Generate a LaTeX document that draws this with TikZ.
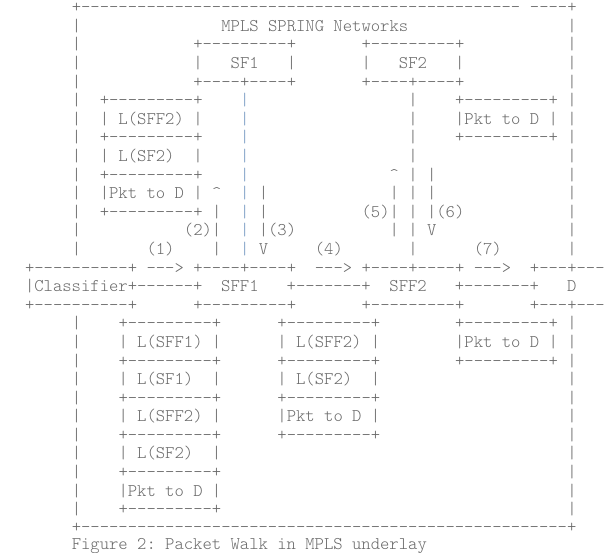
\documentclass[tikz,border=0pt]{standalone}
\usepackage{xcolor}
\definecolor{ascgray}{RGB}{105,105,105}
\definecolor{ascblue}{RGB}{120,155,195}
\tikzset{asc/.style={anchor=base west, inner sep=0pt, outer sep=0pt, text=ascgray,
  font=\fontsize{17.8pt}{18.6pt}\selectfont\ttfamily\fontseries{l}\selectfont}}
% \A[options]{column}{row}{text}
\newcommand\A[4][]{\node[asc,#1] (r#3c#2) at ({25+9.35*#2},{12.8+18.59*#3}) {#4};}
\begin{document}
\begin{tikzpicture}[x=1pt,y=-1pt]
\fill[white] (0,0) rectangle (607,553);
\useasboundingbox (0,0) rectangle (607,553);
% outer border
\A{5}{0}{+-----------------------------------------------}
\A{54}{0}{----+}
\foreach \k in {1,...,13,17,18,...,27}{\A{5}{\k}{|}\A{58}{\k}{|}}
\node[asc] (r28c5) at ({25+9.35*5},532.3) {+----------------------------------------------------+};
% title
\A{21}{1}{MPLS~SPRING~Networks}
% SF boxes
\A{18}{2}{+---------+} \A{36}{2}{+---------+}
\A{18}{3}{|~~~SF1~~~|} \A{36}{3}{|~~~SF2~~~|}
\A{18}{4}{+----+----+} \A{36}{4}{+----+----+}
\foreach \k in {5,...,13}{\A[text=ascblue]{23}{\k}{|}\A{41}{\k}{|}}
% upper label stacks
\A{8}{5}{+---------+}  \A{46}{5}{+---------+}
\A{8}{6}{|~L(SFF2)~|}  \A{46}{6}{|Pkt~to~D~|}
\A{8}{7}{+---------+}  \A{46}{7}{+---------+}
\A{8}{8}{|~L(SF2)~~|}
\A{8}{9}{+---------+}
\A{8}{10}{|Pkt~to~D~|}
\A{8}{11}{+---------+}
% flow arrows and step numbers
\A{39}{9}{\textasciicircum} \A{43}{9}{|}
\A{20}{10}{\textasciicircum} \A{25}{10}{|} \A{39}{10}{|} \A{43}{10}{|}
\A{20}{11}{|} \A{25}{11}{|} \A{36}{11}{(5)|} \A{43}{11}{|(6)}
\A{17}{12}{(2)|} \A{25}{12}{|(3)} \A{39}{12}{|} \A{43}{12}{V}
\A{13}{13}{(1)} \A{20}{13}{|} \A{25}{13}{V} \A{31}{13}{(4)} \A{48}{13}{(7)}
% forwarding row
\A{0}{14}{+----------+} \A{13}{14}{--->} \A{18}{14}{+----+----+} \A{31}{14}{--->}
\A{36}{14}{+----+----+} \A{48}{14}{--->} \A{54}{14}{+---+---}
\A{0}{15}{|Classifier+------+~~SFF1~~~+-------+~~SFF2~~~+-------+~~~D}
\A{0}{16}{+----------+} \A{18}{16}{+---------+} \A{36}{16}{+---------+} \A{54}{16}{+---+---}
% lower label stacks
\A{10}{17}{+---------+} \A{27}{17}{+---------+} \A{46}{17}{+---------+}
\A{10}{18}{|~L(SFF1)~|} \A{27}{18}{|~L(SFF2)~|} \A{46}{18}{|Pkt~to~D~|}
\A{10}{19}{+---------+} \A{27}{19}{+---------+} \A{46}{19}{+---------+}
\A{10}{20}{|~L(SF1)~~|} \A{27}{20}{|~L(SF2)~~|}
\A{10}{21}{+---------+} \A{27}{21}{+---------+}
\A{10}{22}{|~L(SFF2)~|} \A{27}{22}{|Pkt~to~D~|}
\A{10}{23}{+---------+} \A{27}{23}{+---------+}
\A{10}{24}{|~L(SF2)~~|}
\A{10}{25}{+---------+}
\A{10}{26}{|Pkt~to~D~|}
\A{10}{27}{+---------+}
% caption
\node[asc] (caption) at ({25+9.35*5},549.2) {Figure~2:~Packet~Walk~in~MPLS~underlay};
\end{tikzpicture}
\end{document}
